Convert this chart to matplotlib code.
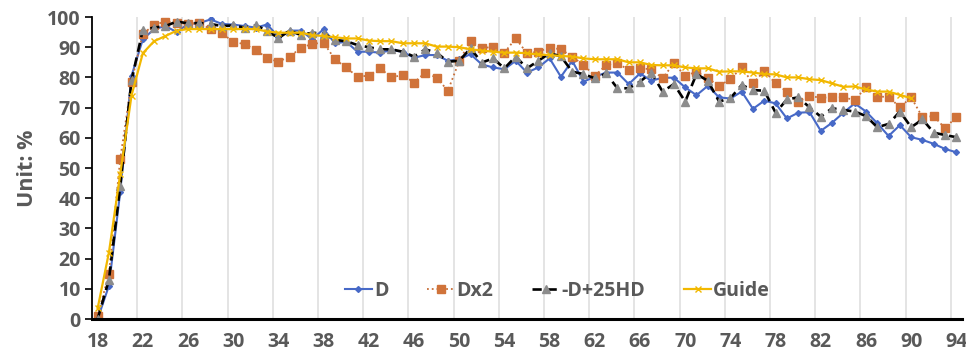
import numpy as np
import matplotlib.pyplot as plt

# age categories and series values (unit: %)
ages = list(range(18, 95))
tick_ages = list(range(18, 95, 4))

d_vals = [0, 11, 42, 80.5, 92.6, 96, 97, 95, 97.7, 98, 99.2, 97.7, 97.5, 97, 96.5, 97.5,
          93.5, 95.5, 95.5, 92.6, 96, 91.3, 91.8, 88.5, 88.5, 88.2, 89, 88.5, 86.5, 87.4,
          87.4, 85.5, 86, 87.7, 84.3, 83.3, 82.7, 85.5, 81.6, 83.3, 86.3, 80.2, 85.5, 78.6,
          80.2, 81.6, 81.6, 77.8, 81.3, 78.9, 79.9, 79.9, 76.7, 74.1, 77.2, 73.4, 73, 75.3,
          69.6, 72.3, 71.4, 66.4, 68.3, 68.5, 62.3, 65, 68.3, 71.4, 68.7, 64.8, 60.6, 64.2,
          60.2, 59.3, 58, 56.3, 55.2]

dx2_vals = [1, 15, 53, 78.5, 94.4, 97.4, 98.5, 98.1, 97.7, 98.1, 95.9, 94.6, 91.8, 91, 89.2,
            86.3, 85.2, 86.9, 89.8, 91.1, 91.5, 86, 83.3, 80.2, 80.6, 83, 80, 80.8, 78.3,
            81.6, 79.9, 75.6, 85.4, 92.2, 89.6, 90.2, 88.2, 92.9, 88, 88.5, 89.9, 89.3, 86.9,
            84.1, 80.5, 84.1, 84.7, 82.5, 83, 82.7, 79.7, 84.7, 80.5, 81.9, 79.7, 77.2, 79.4,
            83.3, 78, 82.2, 78, 75.3, 72, 73.8, 73.3, 73.4, 73.4, 72.5, 76.7, 73.6, 73.6,
            70.1, 73.4, 66.8, 67.2, 63.1, 67]

dhd_vals = [0, 13, 44, 79, 95.7, 96.5, 97, 98.5, 97.9, 98, 97.7, 97, 97.2, 96.5, 97.2, 95.5,
            93, 95.5, 94, 94.8, 94.5, 92.4, 92, 90.7, 90, 89.3, 89.3, 88.5, 86.9, 89.3, 88.2,
            85.2, 85.5, 89.6, 84.9, 86.3, 83, 86.9, 83, 85.5, 88, 87, 81.9, 81.1, 79.7, 81.3,
            76.4, 76.4, 78.6, 81.6, 75.3, 77.8, 72, 81.1, 78.9, 72, 73.1, 77.5, 75.8, 75.6,
            68.3, 72.7, 73.4, 70.1, 67, 69.8, 69.2, 68.7, 67.2, 63.5, 64.6, 68.7, 63.5, 66.1,
            61.7, 60.9, 60.2]

guide_ages = list(range(18, 91))
guide_vals = [3.5, 22, 48, 74, 88, 92, 93.7, 95.5, 96, 96, 96, 96, 96, 96, 96, 95.2, 94.8,
              94.8, 94.8, 94, 93.7, 93.3, 92.9, 92.9, 92.2, 92, 92, 91.3, 91.3, 91.3, 90.2,
              90.2, 90, 89.3, 88.9, 88.5, 88.2, 88.2, 88, 87.6, 87.4, 87.1, 86.9, 86.3, 86,
              86, 86, 85, 85, 84.1, 84, 84, 83.3, 83, 83, 81.9, 82, 82, 81.6, 81.1, 81, 80, 80,
              79.4, 79.1, 78, 76.9, 77, 76, 75.3, 75.3, 74.2, 73.1]

text_color = '#595959'
plt.rcParams['font.family'] = ['Open Sans', 'DejaVu Sans']
plt.rcParams['font.weight'] = 'bold'

fig = plt.figure(figsize=(9.66, 3.58), dpi=100)
ax = fig.add_axes([0.0952, 0.1089, 0.9007, 0.8436])

ax.plot(ages, d_vals, color='#4769C7', lw=1.5, marker='D', ms=3, label='D')
ax.plot(ages, dx2_vals, color='#C8703A', lw=1.3, ls=':', marker='s', ms=6,
        mfc='#D0733A', mec='#D0733A', label='Dx2')
ax.plot(ages, dhd_vals, color='black', lw=1.9, ls=(0, (3.5, 2.2)), marker='^', ms=5.5,
        mfc='#8C8C8C', mec='#8C8C8C', label='-D+25HD')
ax.plot(guide_ages, guide_vals, color='#F2B800', lw=1.6, marker='x', ms=4.5, mew=1,
        label='Guide')

# category-style axis: gridlines sit between categories
ax.set_xlim(17.5, 94.5)
ax.set_ylim(0, 100)
ax.set_xticks(tick_ages)
ax.set_xticks(np.arange(21.5, 94, 4), minor=True)
ax.grid(True, axis='x', which='minor', color='#DCDCDC', lw=1.1)
ax.set_axisbelow(True)
ax.set_yticks(range(0, 101, 10))

ax.tick_params(axis='x', which='both', length=0, pad=9, labelsize=14, labelcolor=text_color)
ax.tick_params(axis='y', length=5, width=1.2, pad=3, labelsize=14, labelcolor=text_color)
for lab in ax.get_xticklabels() + ax.get_yticklabels():
    lab.set_fontweight('bold')

ax.spines['top'].set_visible(False)
ax.spines['right'].set_visible(False)
ax.spines['left'].set_linewidth(1.3)
ax.spines['bottom'].set_linewidth(2.2)

ax.set_ylabel('Unit: %', fontsize=15.5, fontweight='bold', color=text_color, labelpad=7)

leg = ax.legend(loc='center', bbox_to_anchor=(0.535, 0.093), ncol=4, frameon=False,
                fontsize=14, handlelength=1.4, handletextpad=0.1, columnspacing=2.0)
for t in leg.get_texts():
    t.set_color(text_color)
    t.set_fontweight('bold')

fig.savefig('out.png', dpi=100)
